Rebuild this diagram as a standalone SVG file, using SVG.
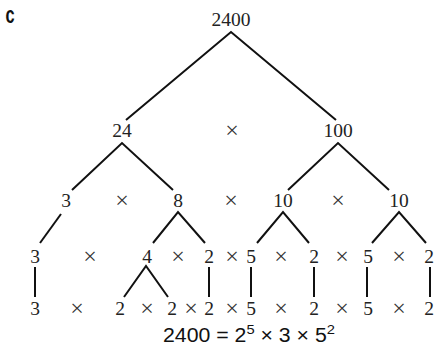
<svg xmlns="http://www.w3.org/2000/svg" width="436" height="346" viewBox="0 0 436 346">
<style>
.n{font-family:"Liberation Serif","Times New Roman",serif;font-size:19.5px;fill:#222;text-anchor:middle}
.x{font-family:"Liberation Serif","Times New Roman",serif;font-size:24px;fill:#333;text-anchor:middle}
.e{stroke:#111;stroke-width:2;fill:none;stroke-linecap:butt}
.lbl{font-family:"Liberation Sans",sans-serif;font-weight:bold;font-size:24px;fill:#111}
.eq{font-family:"Liberation Sans Narrow","Liberation Sans",sans-serif;font-size:19.5px;fill:#111}
</style>
<rect width="436" height="346" fill="#fff"/>
<text class="lbl" transform="translate(5.5,23) scale(0.68,1)">c</text>
<g id="connectors">
<path class="e" d="M126,120 L231,32 L336,120"/>
<path class="e" d="M72,190 L122,143 L173,190"/>
<path class="e" d="M288,190 L338,143 L389,190"/>
<path class="e" d="M61,214 L40,243"/>
<path class="e" d="M153,243 L178,212 L205,243"/>
<path class="e" d="M257,243 L283,212 L309,243"/>
<path class="e" d="M372,243 L399,212 L426,243"/>
<path class="e" d="M35,267 L35,297"/>
<path class="e" d="M124,297 L146,266 L168,297"/>
<path class="e" d="M209,267 L209,297"/>
<path class="e" d="M251,267 L251,297"/>
<path class="e" d="M314,267 L314,297"/>
<path class="e" d="M367,267 L367,297"/>
<path class="e" d="M430,267 L430,297"/>
</g>
<g id="n2400"><text class="n" x="231" y="26">2400</text></g>
<g id="n24"><text class="n" x="122" y="137">24</text></g>
<g id="x1"><text class="x" x="232" y="138">×</text></g>
<g id="n100"><text class="n" x="338" y="137">100</text></g>
<g id="row3">
<text class="n" x="66" y="207">3</text>
<text class="x" x="122" y="208">×</text>
<text class="n" x="178" y="207">8</text>
<text class="x" x="231" y="208">×</text>
<text class="n" x="283" y="207">10</text>
<text class="x" x="338" y="208">×</text>
<text class="n" x="399" y="207">10</text>
</g>
<g id="row4">
<text class="n" x="35" y="263">3</text>
<text class="x" x="90" y="264">×</text>
<text class="n" x="147" y="263">4</text>
<text class="x" x="178" y="264">×</text>
<text class="n" x="209" y="263">2</text>
<text class="x" x="232" y="264">×</text>
<text class="n" x="251" y="263">5</text>
<text class="x" x="281" y="264">×</text>
<text class="n" x="314" y="263">2</text>
<text class="x" x="342" y="264">×</text>
<text class="n" x="368" y="263">5</text>
<text class="x" x="399" y="264">×</text>
<text class="n" x="429" y="263">2</text>
</g>
<g id="row5">
<text class="n" x="35" y="315">3</text>
<text class="x" x="77" y="316">×</text>
<text class="n" x="120" y="315">2</text>
<text class="x" x="147" y="316">×</text>
<text class="n" x="172" y="315">2</text>
<text class="x" x="191" y="316">×</text>
<text class="n" x="209" y="315">2</text>
<text class="x" x="232" y="316">×</text>
<text class="n" x="251" y="315">5</text>
<text class="x" x="281" y="316">×</text>
<text class="n" x="314" y="315">2</text>
<text class="x" x="342" y="316">×</text>
<text class="n" x="368" y="315">5</text>
<text class="x" x="399" y="316">×</text>
<text class="n" x="429" y="315">2</text>
</g>
<g id="equation"><text class="eq" x="163" y="342" textLength="172" lengthAdjust="spacingAndGlyphs">2400 = 2<tspan dy="-8" font-size="13.5">5</tspan><tspan dy="8"> × 3 × 5</tspan><tspan dy="-8" font-size="13.5">2</tspan></text></g>
</svg>
